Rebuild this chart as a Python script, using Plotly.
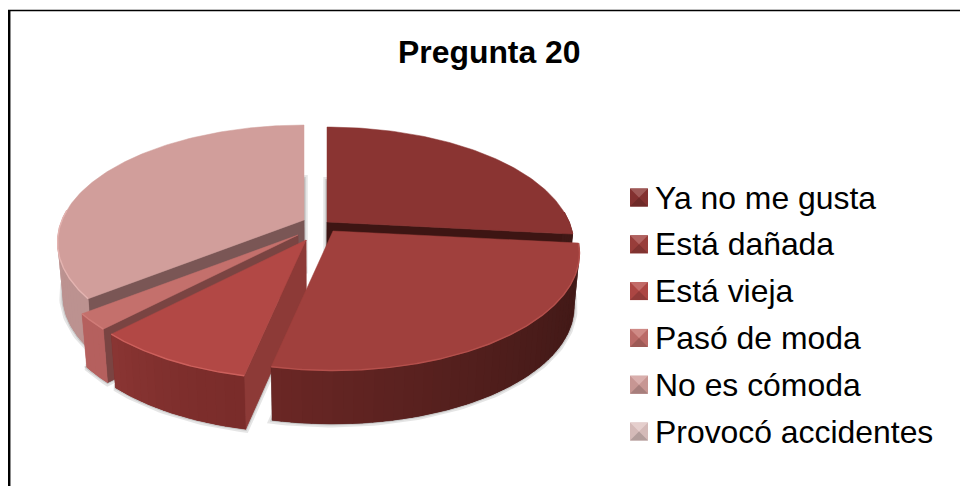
import math
import plotly.graph_objects as go

# ---- data ----
TITLE = "Pregunta 20"
CATEGORIES = ["Ya no me gusta", "Está dañada", "Está vieja", "Pasó de moda", "No es cómoda", "Provocó accidentes"]
VALUES = [12, 12, 4, 1, 16, 0]

# ---- style ----
TOP = ["#8A3432", "#A0403D", "#B24845", "#C4706C", "#D19E9B", "#DFC4C2"]
RIM = ["#8A3432", "#B5504C", "#CC605C", "#D07C78", "#E4B4B1", "#DFC4C2"]
WALL_A = ["#3F1816", "#3F1816", "#7A2C2A", "#B5605E", "#BC9290", "#DFC4C2"]
WALL_B = ["#3F1816", "#6B2725", "#8A3533", "#B5605E", "#B88E8C", "#DFC4C2"]
FACE = ["#3D1513", "#3D1513", "#8D3A37", "#7A4442", "#7A5655", "#DFC4C2"]
LEGEND = ["#8A3432", "#A0403D", "#B54A47", "#C4706C", "#D19E9B", "#DFC4C2"]
EXPLODE = [(11, -6), (17, 3), (-10, 12), (-18, 7), (-12, -8), (0, 0)]
DRAW_ORDER = [4, 0, 3, 2, 1]
CX, CY = 316, 228
RX, RY, PERSP = 242, 113, 0.19
THICK, BOTTOM_SCALE = 53.5, 0.98
FONT = "Liberation Sans, Arial, sans-serif"
FONT_SIZE = 31.9


def project(theta_deg, r=1.0):
    t = math.radians(theta_deg)
    w = 1 + PERSP * r * math.cos(t)
    return RX * r * math.sin(t) / w, -RY * r * math.cos(t) / w


def lower(p):
    return (CX + (p[0] - CX) * BOTTOM_SCALE, p[1] + THICK)


def mix(a, b, f):
    ca = [int(a[i:i + 2], 16) for i in (1, 3, 5)]
    cb = [int(b[i:i + 2], 16) for i in (1, 3, 5)]
    return "#" + "".join(f"{round(x + (y - x) * f):02X}" for x, y in zip(ca, cb))


fig = go.Figure()


def poly(points, fill, line=None, width=0.8):
    fig.add_trace(go.Scatter(
        x=[p[0] for p in points] + [points[0][0]],
        y=[p[1] for p in points] + [points[0][1]],
        mode="lines", fill="toself", fillcolor=fill,
        line=dict(color=line or fill, width=width),
        hoverinfo="skip", showlegend=False))


# angular extents derived from the values
total = sum(VALUES)
spans, acc = [], 0.0
for v in VALUES:
    spans.append((acc, acc + 360.0 * v / total))
    acc += 360.0 * v / total


def point(i, theta):
    dx, dy = project(theta)
    return (CX + EXPLODE[i][0] + dx, CY + EXPLODE[i][1] + dy)


def arc(i, a, b, step=1.0):
    n = max(2, int(abs(b - a) / step) + 1)
    return [point(i, a + (b - a) * k / (n - 1)) for k in range(n)]


apex = [(CX + e[0], CY + e[1]) for e in EXPLODE]

# soft drop shadow beneath every slab
for i in DRAW_ORDER:
    a, b = spans[i]
    base = [lower(p) for p in [apex[i]] + arc(i, a, b)]
    poly(base, "rgba(0,0,0,0.10)", "rgba(0,0,0,0.10)", 7)
    poly(base, "rgba(0,0,0,0.12)", "rgba(0,0,0,0.12)", 3)

# slices, painted back to front
for i in DRAW_ORDER:
    a, b = spans[i]
    if math.sin(math.radians(a)) < -1e-6:
        o = point(i, a)
        poly([apex[i], o, lower(o), lower(apex[i])], FACE[i])
    if math.sin(math.radians(b)) > 1e-6:
        o = point(i, b)
        poly([apex[i], o, lower(o), lower(apex[i])], FACE[i])
    lo, hi = max(a, 85.0), min(b, 275.0)
    if hi > lo:
        # base wall first, so the gradient bands never show seams
        full = arc(i, lo, hi, 0.5)
        poly(full + [lower(p) for p in reversed(full)], mix(WALL_A[i], WALL_B[i], 0.5), width=0.5)
        band = 2.0
        n = max(1, int((hi - lo) / band))
        for k in range(n):
            t0 = lo + (hi - lo) * k / n
            t1 = lo + (hi - lo) * (k + 1.15) / n
            top = arc(i, t0, min(t1, hi), 0.5)
            f = (0.5 * (t0 + t1) - a) / max(b - a, 1e-6)
            poly(top + [lower(p) for p in reversed(top)],
                 mix(WALL_A[i], WALL_B[i], min(1.0, max(0.0, f)) ** 1.5), width=0)
    poly([apex[i]] + arc(i, a, b), TOP[i], TOP[i], 0.5)
    if hi > lo:
        rim = arc(i, lo, hi, 0.5)
        fig.add_trace(go.Scatter(x=[p[0] for p in rim], y=[p[1] for p in rim], mode="lines",
                                 line=dict(color=RIM[i], width=1.4),
                                 hoverinfo="skip", showlegend=False))

# ---- legend (bevelled squares and real text) ----
shapes, annotations = [], []
LEG_X0, LEG_SIZE, LEG_Y0, LEG_STEP = 630, 18, 197.5, 46.8
for k, (name, col) in enumerate(zip(CATEGORIES, LEGEND)):
    yc = LEG_Y0 + k * LEG_STEP
    x0, x1, y0, y1 = LEG_X0, LEG_X0 + LEG_SIZE, yc - LEG_SIZE / 2, yc + LEG_SIZE / 2
    xm = (x0 + x1) / 2
    side = mix(col, "#000000", 0.05)
    shapes.append(dict(type="rect", x0=x0, x1=x1, y0=y0, y1=y1, fillcolor=side, line=dict(width=0), layer="above"))
    tris = [
        (f"M{x0},{y1} L{x1},{y1} L{xm},{yc} Z", mix(col, "#000000", 0.20)),
        (f"M{x0},{y0} L{x1},{y0} L{xm},{yc} Z", mix(col, "#FFFFFF", 0.18)),
    ]
    for path, c in tris:
        shapes.append(dict(type="path", path=path, fillcolor=c, line=dict(width=0), layer="above"))
    annotations.append(dict(x=655, y=yc, text=name, showarrow=False, xanchor="left", yanchor="middle",
                            xshift=-2, font=dict(family=FONT, size=FONT_SIZE, color="#000000")))

annotations.append(dict(x=489.5, y=52, text=f"<b>{TITLE}</b>", showarrow=False, xanchor="center",
                        yanchor="middle", font=dict(family=FONT, size=FONT_SIZE, color="#000000")))

# chart frame: only the top and left edges are present in the picture
shapes += [
    dict(type="line", x0=9, x1=9, y0=10.5, y1=486, line=dict(color="#000000", width=2)),
    dict(type="line", x0=10.5, x1=10.5, y0=11, y1=486, line=dict(color="#8C8C8C", width=1)),
    dict(type="line", x0=8, x1=960, y0=10.5, y1=10.5, line=dict(color="#000000", width=1.6)),
]

fig.update_layout(
    width=960, height=486, autosize=False,
    margin=dict(l=0, r=0, t=0, b=0),
    paper_bgcolor="#FFFFFF", plot_bgcolor="#FFFFFF",
    xaxis=dict(range=[0, 960], visible=False, fixedrange=True),
    yaxis=dict(range=[486, 0], visible=False, fixedrange=True),
    showlegend=False, shapes=shapes, annotations=annotations,
)
fig.write_html("out.html", config=dict(displayModeBar=False),
               post_script="document.body.style.margin='0';document.documentElement.style.overflow='hidden';")
